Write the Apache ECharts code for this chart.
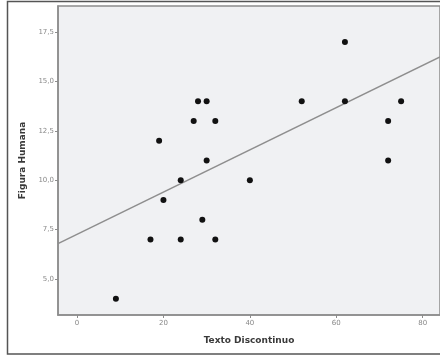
<!DOCTYPE html>
<html>
<head>
<meta charset="utf-8">
<script src="https://cdn.jsdelivr.net/npm/echarts@6/dist/echarts.min.js"></script>
<style>
html,body{margin:0;padding:0;background:#fff;}
#c{width:440px;height:357px;}
</style>
</head>
<body>
<div id="c"></div>
<script>
// Data
var textoDiscontinuo = [9, 17, 19, 20, 24, 24, 27, 28, 30, 30, 29, 32, 32, 40, 52, 62, 62, 72, 72, 75];
var figuraHumana     = [4, 7, 12, 9, 10, 7, 13, 14, 14, 11, 8, 13, 7, 10, 14, 17, 14, 13, 11, 14];
var fitLineX = [-4.4, 84];
var fitLineY = [6.79, 16.24];
var xTicks = [0, 20, 40, 60, 80];
var yTicks = [5, 7.5, 10, 12.5, 15, 17.5];
var xTitle = 'Texto Discontinuo';
var yTitle = 'Figura Humana';

var points = textoDiscontinuo.map(function (x, i) { return [x, figuraHumana[i]]; });
var fit = fitLineX.map(function (x, i) { return [x, fitLineY[i]]; });

var chart = echarts.init(document.getElementById('c'), null, {renderer: 'canvas'});
chart.setOption({
  animation: false,
  backgroundColor: '#ffffff',
  grid: {left: 58, top: 6, right: 0, bottom: 42, show: true,
         backgroundColor: '#f0f1f3', borderColor: '#8c8c8c', borderWidth: 1.5},
  graphic: [{
    type: 'rect', silent: true, z: 100,
    shape: {x: 7.5, y: 1.5, width: 460, height: 352.5},
    style: {fill: 'none', stroke: '#555', lineWidth: 1.5}
  }],
  xAxis: {
    type: 'value', min: -4.4, max: 84,
    name: xTitle, nameLocation: 'middle', nameGap: 21,
    nameTextStyle: {fontFamily: 'DejaVu Sans', fontWeight: 'bold', fontSize: 9, color: '#3a3a3a'},
    axisLine: {show: true, onZero: false, lineStyle: {color: '#8c8c8c', width: 1.5}},
    axisTick: {show: true, length: 3, customValues: xTicks, lineStyle: {color: '#8c8c8c'}},
    axisLabel: {customValues: xTicks, margin: 5, color: '#888', fontSize: 7, fontFamily: 'DejaVu Sans'},
    splitLine: {show: false}
  },
  yAxis: {
    type: 'value', min: 3.18, max: 18.82,
    name: yTitle, nameLocation: 'middle', nameGap: 30, nameRotate: 90,
    nameTextStyle: {fontFamily: 'DejaVu Sans', fontWeight: 'bold', fontSize: 9, color: '#3a3a3a'},
    axisLine: {show: true, onZero: false, lineStyle: {color: '#8c8c8c', width: 1.5}},
    axisTick: {show: true, length: 3, customValues: yTicks, lineStyle: {color: '#8c8c8c'}},
    axisLabel: {customValues: yTicks, margin: 4, color: '#888', fontSize: 7, fontFamily: 'DejaVu Sans',
      formatter: function (v) { return v.toFixed(1).replace('.', ','); }},
    splitLine: {show: false}
  },
  series: [
    {type: 'line', data: fit, symbol: 'none', silent: true, clip: true,
     lineStyle: {color: '#8e8e8e', width: 1.5}, z: 2},
    {type: 'scatter', data: points, symbol: 'circle', symbolSize: 6,
     itemStyle: {color: '#111111', opacity: 1}, z: 3}
  ]
});
</script>
</body>
</html>
